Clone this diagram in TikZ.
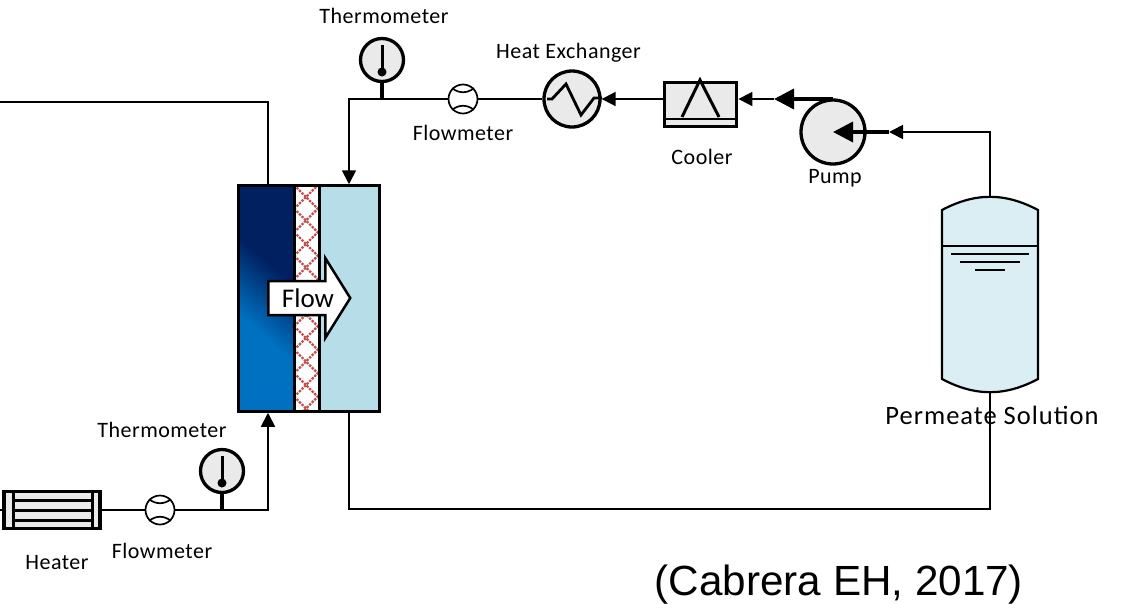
\documentclass[tikz,border=0pt]{standalone}
\usepackage{fontspec}
\setmainfont{Carlito}
\newfontfamily\lblfont[LetterSpace=2.2]{Carlito}
\newfontfamily\tanklblfont[LetterSpace=3.8]{Carlito}
\newfontfamily\citefont{Liberation Sans}
\usetikzlibrary{arrows.meta,positioning,shapes.arrows}
\definecolor{partgray}{HTML}{EAEAEA}
\definecolor{navyside}{HTML}{002060}
\definecolor{blueside}{HTML}{0070C0}
\definecolor{coldside}{HTML}{B7DDE8}
\definecolor{tankblue}{HTML}{DBEEF4}
\definecolor{meshred}{HTML}{C0504D}
\pgfdeclareverticalshading{hotshade}{100bp}{color(0bp)=(blueside); color(40bp)=(blueside); color(60bp)=(navyside); color(100bp)=(navyside)}
\tikzset{
  pipe/.style={draw,line width=1.7pt},
  feed/.style={pipe,-{Triangle[length=14pt,width=14pt]}},
  stem/.style={draw,line width=3.5pt},
  pumpflow/.style={stem,-{Triangle[length=20pt,width=20pt]}},
  part/.style={draw,line width=3.3pt,fill=partgray,inner sep=0pt},
  meter/.style={part,circle,minimum size=43pt},
  flowmeter/.style={draw,line width=1.7pt,fill=white,circle,inner sep=0pt,minimum size=29pt},
  side/.style={draw,line width=3pt,rectangle,inner sep=0pt,minimum height=225.5pt},
  lbl/.style={font=\lblfont\fontsize{22}{24}\selectfont},
}
\begin{document}
\begin{tikzpicture}[x=1pt,y=-1pt,on grid]
   \useasboundingbox (0,0) rectangle (1122,603);
   % module
   \node[side,minimum width=56pt,shading=hotshade,shading angle=-40] (hot) at (266,298.5) {};
   \node[side,minimum width=60pt,fill=coldside] (cold) at (349,298.5) {};
   \node[side,minimum width=25pt,fill=white,path picture={
       \foreach \k in {0,...,9}{
         \pgfmathsetmacro{\yy}{-101.5+23.5*\k}
         \draw[meshred,line width=2.2pt,dash pattern=on 2.4pt off 1.2pt] (-12.5,\yy-12) -- (12.5,\yy+13);
         \draw[meshred,line width=2.2pt,dash pattern=on 2.4pt off 1.2pt] (-12.5,\yy+12) -- (12.5,\yy-13);
       }}] (mem) at (306.5,298.5) {};
   \node[draw,line width=2.5pt,fill=white,single arrow,anchor=tail,inner sep=0pt,minimum height=82pt,minimum width=80pt,
         single arrow head extend=14.5pt,single arrow tip angle=116,font=\fontsize{27}{30}\selectfont] (flow) at (267,298) {\hspace*{8pt}Flow};

   % parts
   \node[meter] (tm1) at (382,60) {};
   \node[meter] (tm2) at (222,471) {};
   \node[flowmeter] (fm1) at (463,99) {};
   \node[flowmeter] (fm2) at (160,510) {};
   \node[part,circle,minimum size=56pt] (he) at (572,99) {};
   \node[part,rectangle,minimum width=72.5pt,minimum height=43.5pt] (cooler) at (700.5,104.5) {};
   \node[part,circle,minimum size=64pt] (pump) at (833,132) {};
   \node[part,rectangle,minimum width=96pt,minimum height=37pt] (heater) at (52,510) {};
   \node[inner sep=0pt,minimum width=96pt,minimum height=193pt] (tank) at (990,294.5) {};

   \foreach \m in {tm1,tm2}{
     \draw[line width=3pt] ([yshift=15pt]\m.center) -- ([yshift=-11pt]\m.center);
     \fill ([yshift=-12pt]\m.center) circle (4.5pt);
   }
   \foreach \m in {fm1,fm2}{
     \draw[line width=1.7pt] (\m.135) to[bend right=40] (\m.45);
     \draw[line width=1.7pt] (\m.225) to[bend left=40] (\m.-45);
   }
   \draw[line width=2.8pt] (547,99) -- (552,99) -- (566,84) -- (581,115) -- (594,98) -- (602,98);
   \draw[line width=3pt] (682,117) -- (700,80) -- (719,117);
   \draw[line width=2.5pt] (663,119) -- (738,119);
   \foreach \xx in {13,92} \draw[line width=3pt] (\xx,490) -- (\xx,530);
   \foreach \yy in {500,510,520} \draw[line width=3pt] (13,\yy) -- (92,\yy);

   % tank
   \draw[line width=2.2pt,fill=tankblue] (942,210) to[bend left=28] (1038,210) -- (1038,379) to[bend left=28] (942,379) -- cycle;
   \draw[line width=1.7pt] (942,246) -- (1038,246);
   \draw[line width=1.7pt] (951,254) -- (1029,254);
   \draw[line width=1.7pt] (960,262) -- (1020,262);
   \draw[line width=1.7pt] (975,270) -- (1005,270);

   \coordinate (hotout) at (0,102);
   \coordinate (heaterin) at (0,510);
   \coordinate (pumpout) at (774,99);
   \coordinate (pumpin) at (889,132);
   \coordinate (back) at (990,509);

   % pipes
   \draw[pipe] (hotout) -| ([xshift=2pt]hot.north);
   \draw[pipe] (heaterin) -- (heater.west);
   \draw[pipe] (heater.east) -- (fm2.west);
   \draw[feed] (fm2.east) -| ([xshift=2pt]hot.south);
   \draw[stem] (tm2.south) -- (tm2.south |- fm2.east);
   \draw[stem] (tm1.south) -- (tm1.south |- fm1.west);
   \draw[feed] (fm1.west) -| (cold.north);
   \draw[pipe] (he.west) -- (fm1.east);
   \draw[feed] (cooler.west |- he.east) -- (he.east);
   \draw[pumpflow] (pumpout -| pump.north) -- (pumpout);
   \draw[feed] (pumpout) -- (cooler.east |- pumpout);
   \draw[pumpflow] (pumpin) -- (pump.center);
   \draw[feed] (tank.north) |- (pumpin);
   \draw[pipe] (cold.south) |- (back) -- (tank.south);

   % labels
   \node[lbl,above right=44pt and 2pt of tm1] (tm1lbl) {Thermometer};
   \node[lbl,above left=46pt and 3.5pt of he] (helbl) {Heat Exchanger};
   \node[lbl,below=34pt of fm1] (fm1lbl) {Flowmeter};
   \node[lbl,below right=52pt and 1.5pt of cooler] (coolerlbl) {Cooler};
   \node[lbl,below right=46pt and 2pt of pump] (pumplbl) {Pump};
   \node[lbl,above left=41pt and 60pt of tm2] (tm2lbl) {Thermometer};
   \node[lbl,below right=53pt and 5pt of heater] (heaterlbl) {Heater};
   \node[lbl,below right=41pt and 2pt of fm2] (fm2lbl) {Flowmeter};
   \node[below right=120.5pt and 2pt of tank,font=\tanklblfont\fontsize{26.5}{30}\selectfont] (tanklbl) {Permeate Solution};
   \node[font=\citefont\fontsize{42.2}{50}\selectfont] (cite) at (839,584.5) {(Cabrera EH, 2017)};
\end{tikzpicture}
\end{document}
